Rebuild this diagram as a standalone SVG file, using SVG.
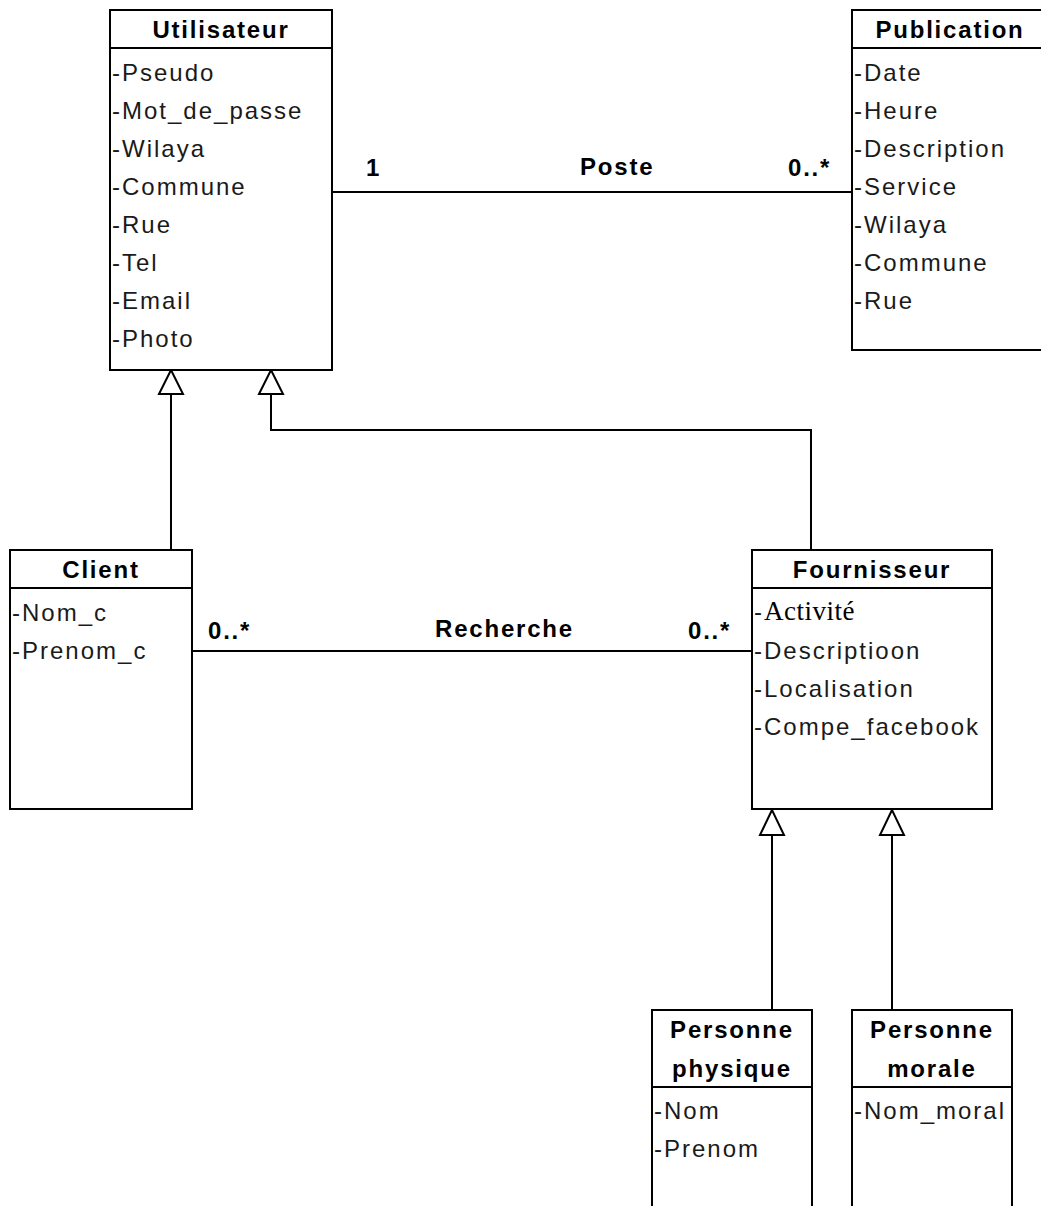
<svg xmlns="http://www.w3.org/2000/svg" width="1041" height="1206" viewBox="0 0 1041 1206">
<style>
.box{fill:#fff;stroke:#000;stroke-width:2}
.sep{stroke:#000;stroke-width:2}
.title{font-family:"Liberation Sans",Arial,sans-serif;font-weight:bold;font-size:24px;letter-spacing:1.8px;fill:#000;text-anchor:middle}
.attr{font-family:"Liberation Sans",Arial,sans-serif;font-size:24px;letter-spacing:2px;fill:#1a1a1a}
.lbl{font-family:"Liberation Sans",Arial,sans-serif;font-weight:bold;font-size:24px;letter-spacing:1.8px;fill:#000}
.conn{fill:none;stroke:#000;stroke-width:2}
.tri{fill:#fff;stroke:#000;stroke-width:2}
.serif{font-family:"Liberation Serif","Times New Roman",serif;font-size:27px;letter-spacing:0.5px}
</style>
<rect width="1041" height="1206" fill="#fff"/>
<g id="connectors">
  <line class="conn" x1="332" y1="192" x2="852" y2="192"/>
  <line class="conn" x1="192" y1="651" x2="752" y2="651"/>
  <line class="conn" x1="171" y1="394" x2="171" y2="550"/>
  <polyline class="conn" points="271,394 271,430 811,430 811,550"/>
  <line class="conn" x1="772" y1="835" x2="772" y2="1010"/>
  <line class="conn" x1="892" y1="835" x2="892" y2="1010"/>
  <polygon class="tri" points="171,370 159,394 183,394"/>
  <polygon class="tri" points="271,370 259,394 283,394"/>
  <polygon class="tri" points="772,810 760,835 784,835"/>
  <polygon class="tri" points="892,810 880,835 904,835"/>
  <text class="lbl" x="366" y="176">1</text>
  <text class="lbl" x="580" y="175">Poste</text>
  <text class="lbl" x="788" y="176">0..*</text>
  <text class="lbl" x="208" y="639">0..*</text>
  <text class="lbl" x="435" y="637">Recherche</text>
  <text class="lbl" x="688" y="639">0..*</text>
</g>
<g id="utilisateur">
  <rect class="box" x="110" y="10" width="222" height="360"/>
  <line class="sep" x1="110" y1="48" x2="332" y2="48"/>
  <text class="title" x="221" y="38">Utilisateur</text>
  <text class="attr" x="112" y="81">-Pseudo</text>
  <text class="attr" x="112" y="119">-Mot_de_passe</text>
  <text class="attr" x="112" y="157">-Wilaya</text>
  <text class="attr" x="112" y="195">-Commune</text>
  <text class="attr" x="112" y="233">-Rue</text>
  <text class="attr" x="112" y="271">-Tel</text>
  <text class="attr" x="112" y="309">-Email</text>
  <text class="attr" x="112" y="347">-Photo</text>
</g>
<g id="publication">
  <rect class="box" x="852" y="10" width="196" height="340"/>
  <line class="sep" x1="852" y1="48" x2="1048" y2="48"/>
  <text class="title" x="950" y="38">Publication</text>
  <text class="attr" x="854" y="81">-Date</text>
  <text class="attr" x="854" y="119">-Heure</text>
  <text class="attr" x="854" y="157">-Description</text>
  <text class="attr" x="854" y="195">-Service</text>
  <text class="attr" x="854" y="233">-Wilaya</text>
  <text class="attr" x="854" y="271">-Commune</text>
  <text class="attr" x="854" y="309">-Rue</text>
</g>
<g id="client">
  <rect class="box" x="10" y="550" width="182" height="259"/>
  <line class="sep" x1="10" y1="588" x2="192" y2="588"/>
  <text class="title" x="101" y="578">Client</text>
  <text class="attr" x="12" y="621">-Nom_c</text>
  <text class="attr" x="12" y="659">-Prenom_c</text>
</g>
<g id="fournisseur">
  <rect class="box" x="752" y="550" width="240" height="259"/>
  <line class="sep" x1="752" y1="588" x2="992" y2="588"/>
  <text class="title" x="872" y="578">Fournisseur</text>
  <text class="attr" x="754" y="620">-<tspan class="serif" fill="#000">Activité</tspan></text>
  <text class="attr" x="754" y="659">-Descriptioon</text>
  <text class="attr" x="754" y="697">-Localisation</text>
  <text class="attr" x="754" y="735">-Compe_facebook</text>
</g>
<g id="personne-physique">
  <rect class="box" x="652" y="1010" width="160" height="220"/>
  <line class="sep" x1="652" y1="1087" x2="812" y2="1087"/>
  <text class="title" x="732" y="1038">Personne</text>
  <text class="title" x="732" y="1077">physique</text>
  <text class="attr" x="654" y="1119">-Nom</text>
  <text class="attr" x="654" y="1157">-Prenom</text>
</g>
<g id="personne-morale">
  <rect class="box" x="852" y="1010" width="160" height="220"/>
  <line class="sep" x1="852" y1="1087" x2="1012" y2="1087"/>
  <text class="title" x="932" y="1038">Personne</text>
  <text class="title" x="932" y="1077">morale</text>
  <text class="attr" x="854" y="1119">-Nom_moral</text>
</g>
</svg>
